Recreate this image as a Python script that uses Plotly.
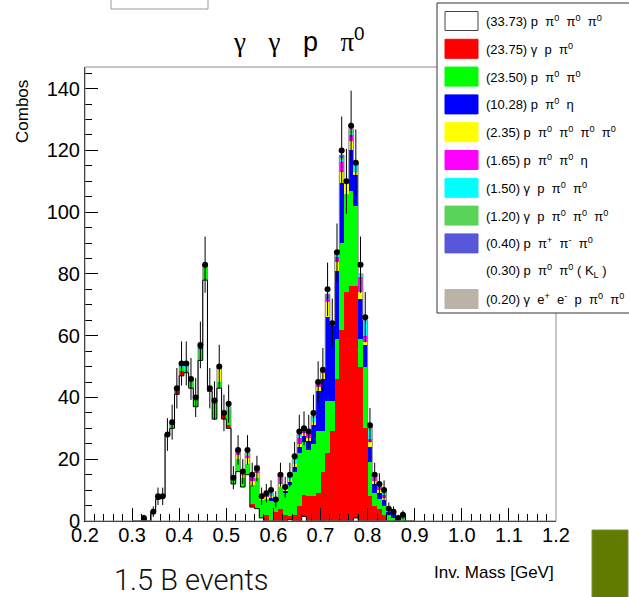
import numpy as np
import plotly.graph_objects as go

# ---------------- data (bins of 0.01 GeV starting at 0.30) ----------------
bin_start = 0.30
bin_width = 0.01

data_counts = [0, 0, 1, 0, 3, 8, 8, 28, 32, 43,
               51, 51, 46, 40, 57, 83, 43, 39, 50, 35,
               38, 14, 23, 16, 23, 15, 17, 8, 9, 10,
               7, 15, 11, 15, 21, 29, 30, 29, 35, 45,
               49, 75, 64, 87, 120, 110, 128, 116, 83, 66,
               31, 15, 12, 10, 4, 3, 1, 2, 0, 0]

p3pi0 = [0, 0, 1, 0, 3, 7, 8, 28, 30, 41,
         47, 48, 43, 37, 52, 78, 42, 33, 43, 33,
         30, 12, 16, 11, 15, 4.5, 4, 1, 0, 0,
         0, 0, 0, 0.5, 0, 0, 1.5, 0, 0, 0,
         0, 0, 0, 0, 0, 0, 0, 1, 0, 0,
         0, 0, 0, 0, 0, 0, 0, 0, 0, 0]
gppi0 = [0, 0, 0, 0, 0, 1, 0, 0, 0, 1,
         1.5, 0, 0, 0, 0, 0, 0, 0, 0, 1,
         1, 0, 0, 0, 0, 1, 0, 0, 2, 0,
         3, 4, 2, 1, 2, 5, 7, 8, 8, 9,
         16, 22, 29, 46, 62, 74, 76, 75, 50, 30,
         8, 5, 4, 2, 0, 0, 0, 0, 0, 0]
p2pi0 = [0, 0, 0, 0, 0, 0, 0, 0, 1.5, 1,
         1.5, 1, 2.5, 3, 4, 4.5, 1, 5.5, 2, 0.5,
         5, 2.5, 4, 3, 3.5, 6, 10, 6, 5, 6.5,
         3.5, 7, 7, 10, 14, 17, 17, 15, 17, 20,
         13, 17, 10, 13, 28, 32, 31, 26, 9, 20,
         11, 4, 3, 3, 2, 1, 0.5, 1.5, 0, 0]
ppi0eta = [0, 0, 0, 0, 0, 0, 0, 0, 0, 0,
           0, 0, 0, 0, 0.5, 0, 0, 0, 0, 0,
           0, 0, 0, 0, 0, 0, 0, 0, 0, 1,
           0, 0, 1, 1, 1.5, 2, 2, 3, 6, 13,
           17, 27, 24, 22, 19.5, 0, 13, 10, 13, 7,
           5, 3, 2, 2, 1, 1.5, 0.5, 0, 0, 0]
p4pi0 = [0, 0, 0, 0, 0, 0, 0, 0, 0, 0,
         0, 0, 0, 0, 0, 0.5, 0, 0, 4.5, 0,
         0, 0, 1.5, 1, 2, 1.5, 1.5, 0.5, 1, 0.5,
         0.5, 1, 0.5, 1, 1, 1, 1, 1, 1, 1.5,
         2, 5, 1, 3, 3.5, 3.5, 3, 1, 2, 1,
         1.5, 1, 1, 0.5, 0, 0, 0, 0, 0, 0]
p2pi0eta = [0, 0, 0, 0, 0, 0, 0, 0, 0, 0,
            0, 0, 0, 0, 0, 0, 0, 0, 0, 0,
            0, 0, 0.5, 0, 0.5, 1, 1, 0, 0.5, 0,
            0, 2, 0, 0, 0, 2, 1, 1.5, 0, 1,
            0.5, 1, 0, 1.5, 3.5, 0.5, 2, 0, 5, 2,
            1, 1, 1, 1, 0, 0, 0, 0, 0, 0]
gp2pi0 = [0, 0, 0, 0, 0, 0, 0, 0, 0, 0,
          0.5, 2, 0, 0, 0.5, 0, 0, 0, 0, 0,
          1, 0, 0, 0, 0, 0.5, 1, 0, 0, 1,
          0, 1, 0, 1, 1.5, 1, 1, 0, 1.5, 0,
          0, 0, 0, 1, 0.5, 0, 0.5, 3, 1, 5,
          3, 1, 1, 1, 1, 0.5, 0, 0, 0, 0]
gp3pi0 = [0, 0, 0, 0, 0, 0, 0, 0, 0, 0,
          0, 0, 0, 0, 0, 0, 0, 0, 0, 0,
          0, 0, 0, 0, 1, 0, 0.5, 0, 0, 0,
          0, 0, 0, 0, 0, 0, 0, 0, 0.5, 0.5,
          0, 0, 0, 0, 0.5, 0, 1, 0, 0, 0,
          1, 0, 0, 0, 0, 0, 0, 0, 0, 0]
ppippimpi0 = [0, 0, 0, 0, 0, 0, 0, 0, 0, 0,
              0, 0, 0, 0, 0, 0, 0, 0, 0, 0,
              0, 0, 1, 0, 0, 0, 0, 0, 0, 0,
              0, 0, 0, 0, 0, 0, 0, 0, 0, 0,
              0, 1.5, 0, 0, 1, 0, 0, 0, 0, 0,
              0, 0, 0, 0, 0, 0, 0, 0, 0, 0]
gepemp2pi0 = [0, 0, 0, 0, 0, 0, 0, 0, 0, 0,
              0, 0, 0, 0, 0, 0, 0, 0, 0, 0,
              0, 0, 0, 0, 0, 0, 0, 0, 0, 0,
              0, 0, 0, 0, 0, 0, 0, 0, 0, 0,
              0, 0, 0, 0, 0, 0, 0.5, 0, 0, 0,
              0, 0, 0, 0, 0, 0, 0, 0, 0, 0]

legend_labels = [
    "(33.73)\u00a0p\u00a0\u00a0π<sup>0</sup>\u00a0\u00a0π<sup>0</sup>\u00a0\u00a0π<sup>0</sup>",
    "(23.75)\u00a0γ\u00a0\u00a0p\u00a0\u00a0π<sup>0</sup>",
    "(23.50)\u00a0p\u00a0\u00a0π<sup>0</sup>\u00a0\u00a0π<sup>0</sup>",
    "(10.28)\u00a0p\u00a0\u00a0π<sup>0</sup>\u00a0\u00a0η",
    "(2.35)\u00a0p\u00a0\u00a0π<sup>0</sup>\u00a0\u00a0π<sup>0</sup>\u00a0\u00a0π<sup>0</sup>\u00a0\u00a0π<sup>0</sup>",
    "(1.65)\u00a0p\u00a0\u00a0π<sup>0</sup>\u00a0\u00a0π<sup>0</sup>\u00a0\u00a0η",
    "(1.50)\u00a0γ\u00a0\u00a0p\u00a0\u00a0π<sup>0</sup>\u00a0\u00a0π<sup>0</sup>",
    "(1.20)\u00a0γ\u00a0\u00a0p\u00a0\u00a0π<sup>0</sup>\u00a0\u00a0π<sup>0</sup>\u00a0\u00a0π<sup>0</sup>",
    "(0.40)\u00a0p\u00a0\u00a0π<sup>+</sup>\u00a0\u00a0π<sup>-</sup>\u00a0\u00a0π<sup>0</sup>",
    "(0.30)\u00a0p\u00a0\u00a0π<sup>0</sup>\u00a0\u00a0π<sup>0</sup>\u00a0(\u00a0K<sub>L</sub>\u00a0)",
    "(0.20)\u00a0γ\u00a0\u00a0e<sup>+</sup>\u00a0\u00a0e<sup>-</sup>\u00a0\u00a0p\u00a0\u00a0π<sup>0</sup>\u00a0\u00a0π<sup>0</sup>",
]
legend_colors = ["#ffffff", "#ff0000", "#00ff00", "#0000ff", "#ffff00", "#ff00ff",
                 "#00ffff", "#59d459", "#5757dc", None, "#bbb2a8"]

x_ticks = [0.2, 0.3, 0.4, 0.5, 0.6, 0.7, 0.8, 0.9, 1.0, 1.1, 1.2]
x_tick_text = ["0.2", "0.3", "0.4", "0.5", "0.6", "0.7", "0.8", "0.9", "1.0", "1.1", "1.2"]
y_ticks = [0, 20, 40, 60, 80, 100, 120, 140]

# ---------------- geometry helpers (pixel -> paper) ----------------
W_PX, H_PX = 629, 597
L, R, T, B = 85, 556, 67, 521
def px(x):
    return (x - L) / (R - L)
def py(y):
    return (B - y) / (B - T)

n = len(data_counts)
centers = [bin_start + bin_width * (i + 0.5) for i in range(n)]
lefts = [bin_start + bin_width * i for i in range(n)]

stack = [p3pi0, gppi0, p2pi0, ppi0eta, p4pi0, p2pi0eta, gp2pi0, gp3pi0, ppippimpi0, gepemp2pi0]
stack_colors = ["#ffffff", "#ff0000", "#00ff00", "#0000ff", "#ffff00", "#ff00ff",
                "#00ffff", "#59d459", "#5757dc", "#bbb2a8"]

fig = go.Figure()
for vals, col in zip(stack, stack_colors):
    fig.add_trace(go.Bar(x=centers, y=vals, width=bin_width, marker_color=col,
                         marker_line_width=0, showlegend=False, hoverinfo="skip"))

# total stack outline (grey) and white histogram outline (black)
total = np.sum(np.array(stack, dtype=float), axis=0)
fig.add_trace(go.Scatter(x=lefts + [bin_start + bin_width * n], y=list(total) + [0],
                         mode="lines", line=dict(color="#8a8a8a", width=1, shape="hv"),
                         showlegend=False, hoverinfo="skip"))
fig.add_trace(go.Scatter(x=lefts + [bin_start + bin_width * n], y=list(p3pi0) + [0],
                         mode="lines", line=dict(color="black", width=1, shape="hv"),
                         showlegend=False, hoverinfo="skip"))

# data points
dx = [c for c, v in zip(centers, data_counts) if v > 0]
dy = [v for v in data_counts if v > 0]
fig.add_trace(go.Scatter(x=dx, y=dy, mode="markers",
                         marker=dict(color="black", size=6),
                         error_y=dict(type="data", array=list(np.sqrt(dy)), color="black",
                                      thickness=1, width=0),
                         showlegend=False, hoverinfo="skip"))

font_main = "Liberation Sans, Arial, sans-serif"
shapes = []
annotations = []

# frame (grey) on top/right
shapes.append(dict(type="rect", xref="paper", yref="paper", x0=0, x1=1, y0=0, y1=1,
                   line=dict(color="#8c8c8c", width=1), layer="above"))

# partial box at top-left
shapes.append(dict(type="rect", xref="paper", yref="paper", x0=px(111), x1=px(208),
                   y0=py(9), y1=py(-10), line=dict(color="#999999", width=1),
                   fillcolor="white", layer="above"))

# legend box
shapes.append(dict(type="rect", xref="paper", yref="paper", x0=px(437), x1=px(645),
                   y0=py(313), y1=py(3), line=dict(color="#333333", width=1),
                   fillcolor="white", layer="above"))
for i, (lab, col) in enumerate(zip(legend_labels, legend_colors)):
    yc = 21 + i * 27.8
    if col is not None:
        shapes.append(dict(type="rect", xref="paper", yref="paper",
                           x0=px(445), x1=px(478), y0=py(yc + 9.5), y1=py(yc - 9.5),
                           line=dict(color="#444444" if i == 0 else col, width=1),
                           fillcolor=col, layer="above"))
    annotations.append(dict(xref="paper", yref="paper", x=px(484), y=py(yc),
                            xanchor="left", yanchor="middle", text=lab, showarrow=False,
                            font=dict(family=font_main, size=13, color="black")))

# title
g = '<span style="font-family:Liberation Serif">γ</span>'
pi = '<span style="font-family:Liberation Serif">π</span>'
annotations.append(dict(xref="paper", yref="paper", x=px(299), y=py(40),
                        xanchor="center", yanchor="middle",
                        text=f"{g}\u00a0\u00a0\u00a0{g}\u00a0\u00a0\u00a0p\u00a0\u00a0\u00a0{pi}<sup>0</sup>",
                        showarrow=False, font=dict(family=font_main, size=27, color="black")))

# axis titles
annotations.append(dict(xref="paper", yref="paper", x=px(556), y=py(572),
                        xanchor="right", yanchor="middle", text="Inv. Mass [GeV]",
                        showarrow=False, font=dict(family=font_main, size=17, color="black")))
annotations.append(dict(xref="paper", yref="paper", x=px(22), y=py(112),
                        xanchor="center", yanchor="middle", text="Combos", textangle=-90,
                        showarrow=False, font=dict(family=font_main, size=17, color="black")))

# bottom-left caption
annotations.append(dict(xref="paper", yref="paper", x=px(112), y=py(580),
                        xanchor="left", yanchor="middle", text="1.5 B events",
                        showarrow=False, font=dict(family="Roboto", size=29, color="#111111",
                                                   weight=300)))
# olive block bottom-right
shapes.append(dict(type="rect", xref="paper", yref="paper", x0=px(592), x1=px(628),
                   y0=py(600), y1=py(530), line=dict(color="#7d9230", width=1),
                   fillcolor="#617a00", layer="above"))

fig.update_layout(
    width=W_PX, height=H_PX,
    margin=dict(l=L, r=W_PX - R, t=T, b=H_PX - B, pad=0),
    paper_bgcolor="white", plot_bgcolor="white",
    barmode="stack", bargap=0,
    shapes=shapes, annotations=annotations,
    xaxis=dict(range=[0.2, 1.2], tickvals=x_ticks, ticktext=x_tick_text,
               ticks="inside", ticklen=13, tickwidth=1, tickcolor="black",
               ticklabelstandoff=-4,
               minor=dict(ticks="inside", ticklen=7, dtick=0.02, tick0=0.2,
                          tickcolor="black", tickwidth=1, showgrid=False),
               showline=True, linecolor="black", linewidth=1, showgrid=False,
               zeroline=False, tickfont=dict(family=font_main, size=20, color="black")),
    yaxis=dict(range=[0, 147], tickvals=y_ticks,
               ticks="inside", ticklen=13, tickwidth=1, tickcolor="black",
               minor=dict(ticks="inside", ticklen=7, dtick=5, tick0=0,
                          tickcolor="black", tickwidth=1, showgrid=False),
               showline=True, linecolor="black", linewidth=1, showgrid=False,
               zeroline=False, tickfont=dict(family=font_main, size=20, color="black")),
)

fig.write_html("out.html")
